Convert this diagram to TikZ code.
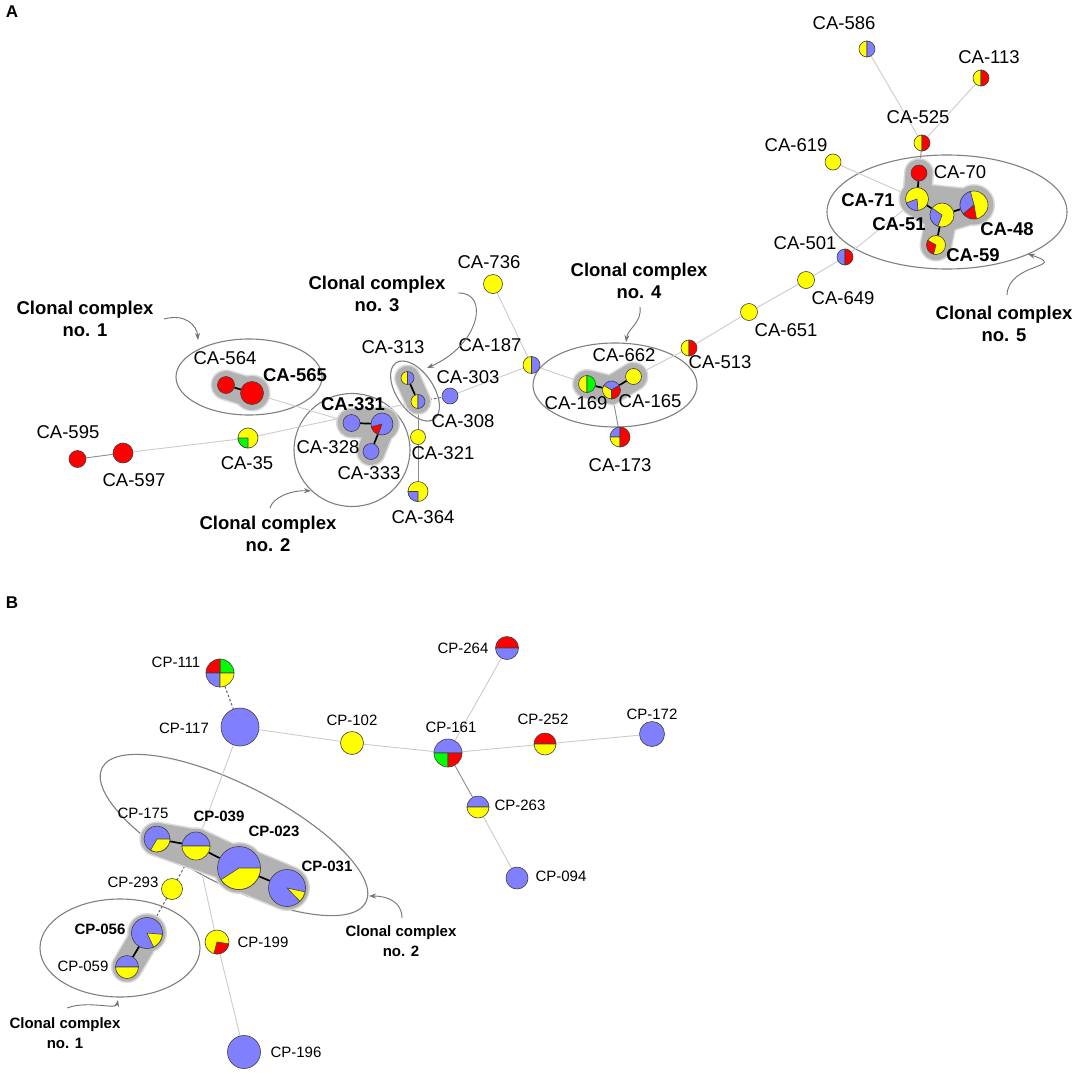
\documentclass[tikz,border=0pt]{standalone}
\usepackage{fontspec}
\setmainfont{Liberation Sans}
\usetikzlibrary{arrows.meta,shapes.geometric}
\definecolor{cb}{RGB}{128,128,255}
\definecolor{cy}{RGB}{255,255,0}
\definecolor{cr}{RGB}{255,0,0}
\definecolor{cg}{RGB}{0,255,0}
\newcommand{\mkn}[4]{\node[circle,inner sep=0pt,minimum size={2*#4pt}] (#1) at (#2,#3) {};}
\newcommand{\dsc}[3]{\filldraw[pieedge,fill=#3] (#1.center) circle[radius=#2pt];}
\newcommand{\wdg}[5]{\filldraw[pieedge,fill=#5] (#1.center) -- ++(#3:#2pt) arc[start angle=#3,end angle=#4,radius=#2pt] -- cycle;}
\begin{document}
\begin{tikzpicture}[x=1pt,y=-1pt,
  pieedge/.style={draw=black!75,line width=0.6pt},
  le/.style={draw=black!20,line width=0.9pt},
  me/.style={draw=black!45,line width=0.9pt},
  de/.style={draw=black!65,line width=0.9pt,dash pattern=on 2.5pt off 2pt},
  se/.style={draw=black,line width=1.7pt},
  cplx/.style={draw=black!50,line width=1.1pt,ellipse,inner sep=0pt},
  cparrow/.style={draw=black!55,line width=0.9pt,-{Stealth[length=7pt,width=5pt]}},
  lblA/.style={inner sep=0pt,font=\fontsize{18.5}{22}\selectfont},
  blblA/.style={inner sep=0pt,font=\fontsize{18.5}{22}\selectfont\bfseries},
  lblB/.style={inner sep=0pt,font=\fontsize{15}{18}\selectfont},
  blblB/.style={inner sep=0pt,font=\fontsize{15}{18}\selectfont\bfseries},
  ccA/.style={inner sep=0pt,align=center,font=\fontsize{18.5}{22}\selectfont\bfseries},
  ccB/.style={inner sep=0pt,align=center,font=\fontsize{15}{20}\selectfont\bfseries},
  hr/.style={draw=black!15,line cap=round},
  hc/.style={draw=black!30,line cap=round},
]
\useasboundingbox[fill=white] (0,0) rectangle (1084,1073);
% ---------- node positions (panel A)
\mkn{ca595}{77.5}{459}{8.5}
\mkn{ca597}{123}{453}{10}
\mkn{ca35}{248}{438}{10}
\mkn{ca564}{226}{385}{8.5}
\mkn{ca565}{252}{393}{11.5}
\mkn{ca328}{351.5}{423}{8.5}
\mkn{ca331}{382}{424}{11}
\mkn{ca333}{371}{451.5}{8}
\mkn{ca313}{407.5}{378}{6.5}
\mkn{ca308}{418}{401.5}{7}
\mkn{ca303}{450}{396}{8}
\mkn{ca321}{418}{437}{7.5}
\mkn{ca364}{418}{491.5}{10}
\mkn{ca736}{493}{284}{9.5}
\mkn{ca187}{531.5}{365}{8.5}
\mkn{ca169}{587}{384}{8.5}
\mkn{ca165}{611.5}{390}{9}
\mkn{ca662}{633.5}{376.5}{8}
\mkn{ca173}{620}{437}{10}
\mkn{ca513}{689}{348}{8}
\mkn{ca651}{749}{312}{8.5}
\mkn{ca649}{806}{280}{8.5}
\mkn{ca501}{845}{257}{8}
\mkn{ca619}{833}{162}{8}
\mkn{ca525}{922}{143}{8}
\mkn{ca586}{867}{49}{8}
\mkn{ca113}{981}{78}{8}
\mkn{ca70}{919}{173}{8}
\mkn{ca71}{917}{199}{11.5}
\mkn{ca51}{942}{215}{12}
\mkn{ca48}{974}{205}{14}
\mkn{ca59}{936}{245}{9.5}
% ---------- node positions (panel B)
\mkn{cp111}{220}{673}{14}
\mkn{cp117}{240}{727}{19}
\mkn{cp102}{352}{743}{11.5}
\mkn{cp161}{448}{753}{14}
\mkn{cp264}{507}{648}{11.5}
\mkn{cp252}{545}{744}{11}
\mkn{cp172}{652}{734}{12.5}
\mkn{cp263}{478}{807}{11}
\mkn{cp094}{517}{878}{11}
\mkn{cp175}{157}{839}{13}
\mkn{cp039}{196}{846}{14}
\mkn{cp023}{239}{868}{21.5}
\mkn{cp031}{287}{888}{18.5}
\mkn{cp293}{172}{889}{10.5}
\mkn{cp056}{147}{933}{15.5}
\mkn{cp059}{127}{967}{11.5}
\mkn{cp199}{217}{942}{12}
\mkn{cp196}{244}{1052}{16.5}
% ---------- clonal complex ellipses
\node[cplx,minimum width=146pt,minimum height=76pt] (cc1) at (249,377) {};
\node[cplx,minimum width=116pt,minimum height=113pt] (cc2) at (352,450) {};
\node[cplx,minimum width=68pt,minimum height=37pt,rotate=-56] (cc3) at (415,391) {};
\node[cplx,minimum width=164pt,minimum height=84pt] (cc4) at (615,385) {};
\node[cplx,minimum width=240pt,minimum height=114pt] (cc5) at (947,212) {};
\node[cplx,minimum width=296pt,minimum height=100pt,rotate=-27] (cb2) at (234,835) {};
\node[cplx,minimum width=160pt,minimum height=98pt] (cb1) at (120,948) {};
% ---------- thin edges
\draw[me] (ca595) -- (ca597);
\draw[le] (ca597) -- (ca35);
\draw[le] (ca35) -- (ca308);
\draw[le] (ca565) -- (ca328);
\draw[de] (ca308) -- (ca303);
\draw[me] (ca308) -- (ca321);
\draw[me] (ca321) -- (ca364);
\draw[le] (ca303) -- (ca187);
\draw[le] (ca736) -- (ca187);
\draw[le] (ca187) -- (ca169);
\draw[me] (ca165) -- (ca173);
\draw[le] (ca662) -- (ca513);
\draw[le] (ca513) -- (ca651);
\draw[le] (ca651) -- (ca649);
\draw[le] (ca649) -- (ca501);
\draw[le] (ca501) -- (ca71);
\draw[le] (ca619) -- (ca71);
\draw[le] (ca586) -- (ca525);
\draw[le] (ca113) -- (ca525);
\draw[me] (ca525) -- (ca70);
\draw[le] (cp117) -- (cp102);
\draw[le] (cp102) -- (cp161);
\draw[le] (cp161) -- (cp264);
\draw[le] (cp161) -- (cp252);
\draw[le] (cp252) -- (cp172);
\draw[me] (cp161) -- (cp263);
\draw[le] (cp263) -- (cp094);
\draw[le] (cp117) -- (cp039);
\draw[le] (cp039) -- (cp199);
\draw[le] (cp199) -- (cp196);
\draw[de] (cp111) -- (cp117);
\draw[de] (cp039) -- (cp293);
\draw[de] (cp293) -- (cp056);
% ---------- halos (rims)
\draw[hr,line width=31pt] (ca564.center) -- (ca565.center);
\fill[black!15] (ca565.center) circle[radius=18.5pt];
\draw[hr,line width=31pt] (ca328.center) -- (ca331.center);
\draw[hr,line width=30pt] (ca331.center) -- (ca333.center);
\fill[black!15] (ca331.center) circle[radius=18pt];
\draw[hr,line width=27pt] (ca313.center) -- (ca308.center);
\draw[hr,line width=30pt] (ca169.center) -- (ca165.center) -- (ca662.center);
\draw[hr,line width=30pt] (ca70.center) -- (ca71.center);
\draw[hr,line width=37pt] (ca71.center) -- (ca51.center);
\draw[hr,line width=33pt] (ca71.center) -- (ca48.center);
\draw[hr,line width=38pt] (ca51.center) -- (ca48.center);
\draw[hr,line width=33pt] (ca51.center) -- (ca59.center);
\fill[black!15] (ca48.center) circle[radius=21pt];
\draw[hr,line width=35pt] (cp175.center) -- (cp039.center);
\draw[hr,line width=35pt] (cp175.center) -- (cp023.center);
\draw[hr,line width=37pt] (cp039.center) -- (cp023.center);
\draw[hr,line width=37pt] (cp039.center) -- (cp031.center);
\draw[hr,line width=46pt] (cp023.center) -- (cp031.center);
\fill[black!15] (cp023.center) circle[radius=26pt];
\draw[hr,line width=32pt] (cp056.center) -- (cp059.center);
\fill[black!15] (cp056.center) circle[radius=20pt];
% ---------- halos (cores)
\draw[hc,line width=28pt] (ca564.center) -- (ca565.center);
\fill[black!30] (ca565.center) circle[radius=17pt];
\draw[hc,line width=28pt] (ca328.center) -- (ca331.center);
\draw[hc,line width=27pt] (ca331.center) -- (ca333.center);
\fill[black!30] (ca331.center) circle[radius=16.5pt];
\draw[hc,line width=24pt] (ca313.center) -- (ca308.center);
\draw[hc,line width=27pt] (ca169.center) -- (ca165.center) -- (ca662.center);
\draw[hc,line width=27pt] (ca70.center) -- (ca71.center);
\draw[hc,line width=34pt] (ca71.center) -- (ca51.center);
\draw[hc,line width=30pt] (ca71.center) -- (ca48.center);
\draw[hc,line width=35pt] (ca51.center) -- (ca48.center);
\draw[hc,line width=30pt] (ca51.center) -- (ca59.center);
\fill[black!30] (ca48.center) circle[radius=19.5pt];
\draw[hc,line width=32pt] (cp175.center) -- (cp039.center);
\draw[hc,line width=32pt] (cp175.center) -- (cp023.center);
\draw[hc,line width=34pt] (cp039.center) -- (cp023.center);
\draw[hc,line width=34pt] (cp039.center) -- (cp031.center);
\draw[hc,line width=43pt] (cp023.center) -- (cp031.center);
\fill[black!30] (cp023.center) circle[radius=24.5pt];
\draw[hc,line width=29pt] (cp056.center) -- (cp059.center);
\fill[black!30] (cp056.center) circle[radius=18.5pt];
% ---------- strong edges
\draw[se] (ca564) -- (ca565);
\draw[se] (ca328) -- (ca331);
\draw[se] (ca331) -- (ca333);
\draw[se] (ca313) -- (ca308);
\draw[se] (ca169) -- (ca165);
\draw[se] (ca165) -- (ca662);
\draw[se] (ca70) -- (ca71);
\draw[se] (ca71) -- (ca51);
\draw[se] (ca51) -- (ca48);
\draw[se] (ca51) -- (ca59);
\draw[se] (cp175) -- (cp039);
\draw[se] (cp039) -- (cp023);
\draw[se] (cp023) -- (cp031);
\draw[se] (cp056) -- (cp059);
% ---------- pies, panel A
\dsc{ca595}{8.5}{cr}
\dsc{ca597}{10}{cr}
\dsc{ca35}{10}{cy}\wdg{ca35}{10}{180}{270}{cg}
\dsc{ca564}{8.5}{cr}
\dsc{ca565}{11.5}{cr}
\dsc{ca328}{8.5}{cb}
\dsc{ca331}{11}{cb}\wdg{ca331}{11}{195}{250}{cr}
\dsc{ca333}{8}{cb}
\wdg{ca313}{6.5}{90}{270}{cy}\wdg{ca313}{6.5}{-90}{90}{cb}
\wdg{ca308}{7}{90}{270}{cy}\wdg{ca308}{7}{-90}{90}{cb}
\dsc{ca303}{8}{cb}
\dsc{ca321}{7.5}{cy}
\dsc{ca364}{10}{cy}\wdg{ca364}{10}{180}{270}{cb}
\dsc{ca736}{9.5}{cy}
\wdg{ca187}{8.5}{90}{270}{cy}\wdg{ca187}{8.5}{-90}{90}{cb}
\wdg{ca169}{8.5}{90}{270}{cy}\wdg{ca169}{8.5}{-90}{90}{cg}
\wdg{ca165}{9}{30}{150}{cb}\wdg{ca165}{9}{150}{270}{cy}\wdg{ca165}{9}{270}{390}{cr}
\dsc{ca662}{8}{cy}
\wdg{ca173}{10}{90}{180}{cb}\wdg{ca173}{10}{180}{270}{cy}\wdg{ca173}{10}{-90}{90}{cr}
\wdg{ca513}{8}{90}{270}{cy}\wdg{ca513}{8}{-90}{90}{cr}
\dsc{ca651}{8.5}{cy}
\dsc{ca649}{8.5}{cy}
\wdg{ca501}{8}{90}{270}{cb}\wdg{ca501}{8}{-90}{90}{cr}
\dsc{ca619}{8}{cy}
\wdg{ca525}{8}{90}{270}{cy}\wdg{ca525}{8}{-90}{90}{cr}
\wdg{ca586}{8}{90}{270}{cy}\wdg{ca586}{8}{-90}{90}{cb}
\wdg{ca113}{8}{90}{270}{cy}\wdg{ca113}{8}{-90}{90}{cr}
\dsc{ca70}{8}{cr}
\dsc{ca71}{11.5}{cy}\wdg{ca71}{11.5}{200}{275}{cb}
\dsc{ca51}{12}{cy}\wdg{ca51}{12}{145}{250}{cb}
\dsc{ca48}{14}{cy}\wdg{ca48}{14}{105}{220}{cb}\wdg{ca48}{14}{220}{280}{cr}
\dsc{ca59}{9.5}{cy}\wdg{ca59}{9.5}{150}{255}{cr}
% ---------- pies, panel B
\wdg{cp111}{14}{0}{90}{cg}\wdg{cp111}{14}{90}{180}{cr}\wdg{cp111}{14}{180}{270}{cb}\wdg{cp111}{14}{270}{360}{cy}
\dsc{cp117}{19}{cb}
\dsc{cp102}{11.5}{cy}
\wdg{cp161}{14}{0}{180}{cb}\wdg{cp161}{14}{180}{270}{cg}\wdg{cp161}{14}{270}{360}{cr}
\wdg{cp264}{11.5}{0}{180}{cr}\wdg{cp264}{11.5}{180}{360}{cb}
\wdg{cp252}{11}{0}{180}{cr}\wdg{cp252}{11}{180}{360}{cy}
\dsc{cp172}{12.5}{cb}
\wdg{cp263}{11}{0}{180}{cb}\wdg{cp263}{11}{180}{360}{cy}
\dsc{cp094}{11}{cb}
\dsc{cp175}{13}{cb}\wdg{cp175}{13}{240}{360}{cy}
\wdg{cp039}{14}{0}{180}{cb}\wdg{cp039}{14}{180}{360}{cy}
\dsc{cp023}{21.5}{cb}\wdg{cp023}{21.5}{213}{360}{cy}
\dsc{cp031}{18.5}{cb}\wdg{cp031}{18.5}{-46}{-12}{cy}
\dsc{cp293}{10.5}{cy}
\dsc{cp056}{15.5}{cb}\wdg{cp056}{15.5}{-65}{-5}{cy}
\wdg{cp059}{11.5}{0}{180}{cb}\wdg{cp059}{11.5}{180}{360}{cy}
\dsc{cp199}{12}{cy}\wdg{cp199}{12}{-105}{-9}{cr}
\dsc{cp196}{16.5}{cb}
% ---------- labels, panel A
\node[inner sep=0pt,font=\fontsize{17}{20}\selectfont\bfseries] (pa) at (12,12) {A};
\node[lblA] (l595) at (68,432) {CA-595};
\node[lblA] (l597) at (134,480) {CA-597};
\node[lblA] (l35) at (247,463) {CA-35};
\node[lblA] (l564) at (225,358) {CA-564};
\node[blblA] (l565) at (295,375) {CA-565};
\node[blblA] (l331) at (353,404) {CA-331};
\node[lblA] (l328) at (328,447) {CA-328};
\node[lblA] (l333) at (369,473) {CA-333};
\node[lblA] (l313) at (393,347) {CA-313};
\node[lblA] (l303) at (468,377) {CA-303};
\node[lblA] (l308) at (463,421) {CA-308};
\node[lblA] (l321) at (443,453) {CA-321};
\node[lblA] (l364) at (423,517) {CA-364};
\node[lblA] (l736) at (489,262) {CA-736};
\node[lblA] (l187) at (490,345) {CA-187};
\node[lblA] (l662) at (624,355) {CA-662};
\node[lblA] (l169) at (576,403) {CA-169};
\node[lblA] (l165) at (650,401) {CA-165};
\node[lblA] (l173) at (620,465) {CA-173};
\node[lblA] (l513) at (720,362) {CA-513};
\node[lblA] (l651) at (786,330) {CA-651};
\node[lblA] (l649) at (843,298) {CA-649};
\node[lblA] (l501) at (805,243) {CA-501};
\node[lblA] (l619) at (796,145) {CA-619};
\node[lblA] (l525) at (918,117) {CA-525};
\node[lblA] (l586) at (844,23) {CA-586};
\node[lblA] (l113) at (989,57) {CA-113};
\node[lblA] (l70) at (960,172) {CA-70};
\node[blblA] (l71) at (868,200) {CA-71};
\node[blblA] (l51) at (899,224) {CA-51};
\node[blblA] (l48) at (1007,229) {CA-48};
\node[blblA] (l59) at (973,255) {CA-59};
\node[ccA] (t1) at (85,319) {Clonal complex\\no. 1};
\node[ccA] (t2) at (268,534) {Clonal complex\\no. 2};
\node[ccA] (t3) at (377,294) {Clonal complex\\no. 3};
\node[ccA] (t4) at (639,280.5) {Clonal complex\\no. 4};
\node[ccA] (t5) at (1004,323.5) {Clonal complex\\no. 5};
% ---------- labels, panel B
\node[inner sep=0pt,font=\fontsize{17}{20}\selectfont\bfseries] (pb) at (12,603) {B};
\node[lblB] (m111) at (176,662) {CP-111};
\node[lblB] (m117) at (184,728) {CP-117};
\node[lblB] (m102) at (352,720) {CP-102};
\node[lblB] (m161) at (451,727) {CP-161};
\node[lblB] (m264) at (463,648) {CP-264};
\node[lblB] (m252) at (543,719) {CP-252};
\node[lblB] (m172) at (652,714) {CP-172};
\node[lblB] (m263) at (520,805) {CP-263};
\node[lblB] (m094) at (561,876) {CP-094};
\node[lblB] (m175) at (143,813) {CP-175};
\node[blblB] (m039) at (219,816) {CP-039};
\node[blblB] (m023) at (274,831) {CP-023};
\node[blblB] (m031) at (327,866) {CP-031};
\node[lblB] (m293) at (133,882) {CP-293};
\node[blblB] (m056) at (100,929) {CP-056};
\node[lblB] (m059) at (83,966) {CP-059};
\node[lblB] (m199) at (263,942) {CP-199};
\node[lblB] (m196) at (296,1052) {CP-196};
\node[ccB] (u2) at (401,941) {Clonal complex\\no. 2};
\node[ccB] (u1) at (65,1033) {Clonal complex\\no. 1};
% ---------- pointer arrows
\coordinate (a1s) at (164,319); \coordinate (a1e) at (198,340);
\coordinate (a2s) at (270,508); \coordinate (a2e) at (311,491);
\coordinate (a3s) at (458,293); \coordinate (a3e) at (427,368);
\coordinate (a4s) at (640,307); \coordinate (a4e) at (626,342);
\coordinate (a5s) at (1007,295); \coordinate (a5e) at (1028,254);
\coordinate (b2s) at (402,918); \coordinate (b2e) at (369,896);
\coordinate (b1s) at (67,1008); \coordinate (b1e) at (118,1000);
\draw[cparrow] (a1s) .. controls (186,313) and (197,326) .. (a1e);
\draw[cparrow] (a2s) .. controls (273,497) and (292,490) .. (a2e);
\draw[cparrow] (a3s) .. controls (490,292) and (480,345) .. (a3e);
\draw[cparrow] (a4s) .. controls (642,323) and (628,328) .. (a4e);
\draw[cparrow] (a5s) .. controls (1008,262) and (1070,268) .. (a5e);
\draw[cparrow] (b2s) .. controls (402,902) and (388,896) .. (b2e);
\draw[cparrow] (b1s) .. controls (88,1000) and (116,1010) .. (b1e);
\end{tikzpicture}
\end{document}
